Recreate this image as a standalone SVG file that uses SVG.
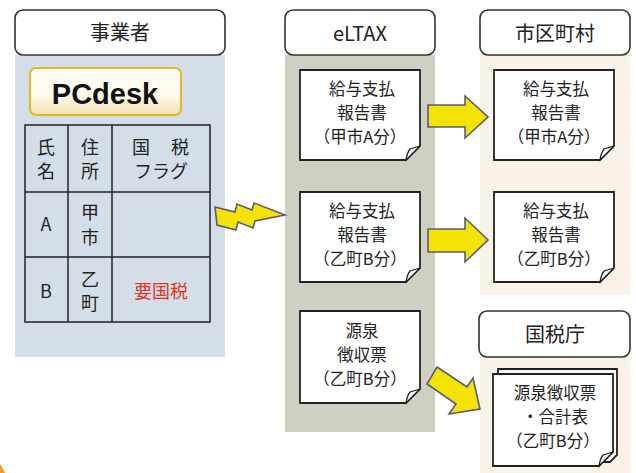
<svg xmlns="http://www.w3.org/2000/svg" width="636" height="473" viewBox="0 0 636 473">
<defs>
<style>
.hdr{fill:#fff;stroke:#333;stroke-width:1.6}
.ht{font-family:"Noto Sans CJK JP","Noto Sans",sans-serif;font-size:20px;fill:#222;text-anchor:middle}
.t{font-family:"Noto Sans CJK JP","Noto Sans",sans-serif;font-size:18px;fill:#222;text-anchor:middle}
.d{font-family:"Noto Sans CJK JP","Noto Sans",sans-serif;font-size:16.5px;fill:#222;text-anchor:middle}
.doc{fill:#fff;stroke:#222;stroke-width:1.8}
.fold{fill:#fff;stroke:#222;stroke-width:1.3}
.arr{fill:#f2e400;stroke:#5a5a7a;stroke-width:1.6;stroke-linejoin:miter}
.cell{fill:none;stroke:#222;stroke-width:1.5}
</style>
<linearGradient id="pcg" x1="0" y1="0" x2="0" y2="1">
<stop offset="0" stop-color="#fffef8"/>
<stop offset="0.6" stop-color="#fdf8e8"/>
<stop offset="1" stop-color="#f3e3b0"/>
</linearGradient>
</defs>
<rect width="636" height="473" fill="#fff"/>
<path d="M0,464 Q3,468 5,473 L0,473 Z" fill="#f0a020"/>

<g id="jigyosha">
<rect x="15" y="55" width="210" height="302" fill="#d4dee8"/>
<rect class="hdr" x="15" y="10" width="210" height="45" rx="8"/>
<text class="ht" x="120" y="40">事業者</text>
<rect x="30" y="68" width="151" height="47" rx="6" fill="url(#pcg)" stroke="#e3b820" stroke-width="2"/>
<text x="105" y="104" font-family="Liberation Sans,Arial,sans-serif" font-weight="bold" font-size="29" fill="#111" text-anchor="middle">PCdesk</text>
<rect x="25" y="125" width="185" height="197" fill="#fff" class="cell"/>
<line class="cell" x1="68" y1="125" x2="68" y2="322"/>
<line class="cell" x1="112" y1="125" x2="112" y2="322"/>
<line class="cell" x1="25" y1="192" x2="210" y2="192"/>
<line class="cell" x1="25" y1="257" x2="210" y2="257"/>
<text class="t" x="46" y="154">氏</text>
<text class="t" x="46" y="178">名</text>
<text class="t" x="90" y="154">住</text>
<text class="t" x="90" y="178">所</text>
<text class="t" x="141" y="154">国</text>
<text class="t" x="180" y="154">税</text>
<text class="t" x="161" y="178">フラグ</text>
<text class="t" x="46" y="231" font-size="19">A</text>
<text class="t" x="90" y="219">甲</text>
<text class="t" x="90" y="244">市</text>
<text class="t" x="46" y="298" font-size="19">B</text>
<text class="t" x="90" y="286">乙</text>
<text class="t" x="90" y="310">町</text>
<text class="t" x="161" y="298" style="fill:#e0321e">要国税</text>
</g>

<g id="eltax">
<rect x="285" y="55" width="150" height="377" fill="#d0d0c2"/>
<rect class="hdr" x="285" y="10" width="150" height="45" rx="8"/>
<text class="ht" x="360" y="41" font-size="21">eLTAX</text>
</g>
<g id="eltax-doc1">
<path class="doc" d="M300,70 H420 V146 L406,160 H300 Z"/>
<path class="fold" d="M420,146 L410,149 Q407,153 406,160 Z"/>
<text class="d" x="362" y="95">給与支払</text>
<text class="d" x="362" y="119">報告書</text>
<text class="d" x="360" y="143">（甲市A分）</text>
</g>
<g id="eltax-doc2">
<path class="doc" d="M300,192 H420 V268 L406,282 H300 Z"/>
<path class="fold" d="M420,268 L410,271 Q407,275 406,282 Z"/>
<text class="d" x="362" y="217">給与支払</text>
<text class="d" x="362" y="241">報告書</text>
<text class="d" x="360" y="265">（乙町B分）</text>
</g>
<g id="eltax-doc3">
<path class="doc" d="M300,311 H420 V389 L406,403 H300 Z"/>
<path class="fold" d="M420,389 L410,392 Q407,396 406,403 Z"/>
<text class="d" x="362" y="337">源泉</text>
<text class="d" x="362" y="361">徴収票</text>
<text class="d" x="360" y="385">（乙町B分）</text>
</g>

<g id="shikuchoson">
<rect x="480" y="55" width="150" height="240" fill="#f9f2e6"/>
<rect class="hdr" x="480" y="10" width="150" height="45" rx="8"/>
<text class="ht" x="555" y="41" font-size="21">市区町村</text>
</g>
<g id="city-doc1">
<path class="doc" d="M494,70 H614 V146 L600,160 H494 Z"/>
<path class="fold" d="M614,146 L604,149 Q601,153 600,160 Z"/>
<text class="d" x="556" y="95">給与支払</text>
<text class="d" x="556" y="119">報告書</text>
<text class="d" x="554" y="143">（甲市A分）</text>
</g>
<g id="city-doc2">
<path class="doc" d="M494,192 H614 V268 L600,282 H494 Z"/>
<path class="fold" d="M614,268 L604,271 Q601,275 600,282 Z"/>
<text class="d" x="556" y="217">給与支払</text>
<text class="d" x="556" y="241">報告書</text>
<text class="d" x="554" y="265">（乙町B分）</text>
</g>

<g id="kokuzeicho">
<rect x="480" y="357" width="150" height="116" fill="#f9f2e6"/>
<rect class="hdr" x="479" y="311" width="151" height="46" rx="8"/>
<text class="ht" x="555" y="342" font-size="21">国税庁</text>
</g>
<g id="nta-doc">
<path class="doc" d="M498,369 H617 V455 L610,462 H498 Z"/>
<path class="doc" d="M493,374 H613 V452 L599,466 H493 Z"/>
<path class="fold" d="M613,452 L603,455 Q600,459 599,466 Z"/>
<text class="d" x="555" y="399">源泉徴収票</text>
<text class="d" x="555" y="423">・合計表</text>
<text class="d" x="553" y="447">（乙町B分）</text>
</g>

<g id="connectors">
<path class="arr" d="M215,207 L235,212 L237,204 L252,210 L254,203 L285,215 L255,221 L253,228 L238,222 L236,230 L217,225 Z"/>
<path class="arr" d="M428,105 H465 V96 L488,117 L465,138 V127 H428 Z"/>
<path class="arr" d="M428,229 H465 V218 L488,240 L465,262 V252 H428 Z"/>
<path class="arr" d="M437,367 L467,387 L473,378 L480,409 L449,414 L456,404 L427,384 Z"/>
</g>
</svg>
